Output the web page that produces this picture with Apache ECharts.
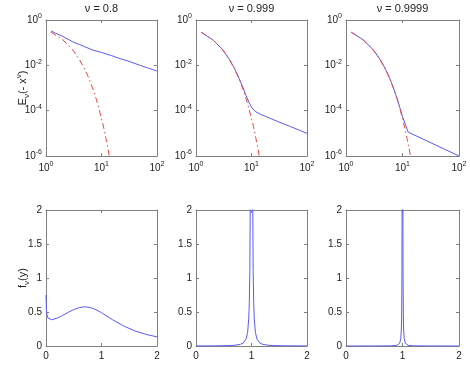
<!DOCTYPE html>
<html>
<head>
<meta charset="utf-8">
<script src="https://cdn.jsdelivr.net/npm/echarts@6/dist/echarts.min.js"></script>
<style>
  html, body { margin: 0; padding: 0; background: #fff; }
  #chart { width: 470px; height: 369px; }
</style>
</head>
<body>
<div id="chart"></div>
<script>
// panel titles
var titles = ['ν = 0.8', 'ν = 0.999', 'ν = 0.9999'];

// top row: E_nu(-x^nu) on log-log axes (blue) and the exponential (red dash-dot)
var blue1X = [1.23, 1.5, 2, 3, 4, 5, 7, 10, 15, 20, 30, 50, 70, 100];
var blue1Y = [0.33, 0.26, 0.19, 0.11, 0.083, 0.066, 0.047, 0.037, 0.027, 0.021, 0.0155, 0.0099, 0.0075, 0.0056];

var blue2X = [1.23, 2, 3, 4, 5, 6, 7, 8, 9, 10, 11, 12, 15, 20, 30, 50, 70, 100];
var blue2Y = [0.29, 0.135, 0.05, 0.0185, 0.0068, 0.0026, 0.00105, 0.00046, 0.00023, 0.000145, 0.000106, 0.000089,
              0.000067, 0.00005, 0.000033, 0.00002, 0.0000143, 0.00001];

var blue3X = [1.23, 2, 3, 4, 5, 6, 7, 8, 9, 10, 12.6, 100];
var blue3Y = [0.292, 0.135, 0.0498, 0.0183, 0.00676, 0.00249, 0.000926, 0.000348, 0.000134, 0.000055, 0.0000113, 0.000001];

var redX = [1.23, 2, 3, 4, 5, 6, 7, 8, 9, 10, 11, 12, 13, 13.8];
var redY = [0.292, 0.135, 0.05, 0.018, 0.0067, 0.0025, 0.0009, 0.00034, 0.00012, 0.000045, 0.000017, 0.000006, 0.0000023, 0.000001];

// bottom row: f_nu(y)
var dens1X = [0, 0.01, 0.03, 0.06, 0.1, 0.2, 0.3, 0.4, 0.5, 0.6, 0.7, 0.8, 0.9, 1.0, 1.2, 1.4, 1.6, 1.8, 2.0];
var dens1Y = [0.75, 0.49, 0.416, 0.39, 0.386, 0.41, 0.45, 0.495, 0.536, 0.565, 0.577, 0.565, 0.534, 0.49, 0.386, 0.294, 0.223, 0.171, 0.134];

var dens2X = [0, 0.2, 0.4, 0.6, 0.7, 0.8, 0.85, 0.9, 0.93, 0.95, 0.96, 0.97, 0.98, 0.99, 1.0,
              1.01, 1.02, 1.03, 1.04, 1.05, 1.07, 1.1, 1.15, 1.2, 1.3, 1.4, 1.6, 2.0];
var dens2Y = [0.001, 0.0016, 0.0028, 0.0063, 0.011, 0.025, 0.044, 0.099, 0.2, 0.4, 0.62, 1.1, 2.44, 9.1, 100,
              9.1, 2.44, 1.1, 0.62, 0.4, 0.2, 0.099, 0.044, 0.025, 0.011, 0.0063, 0.0028, 0.001];

var dens3X = [0, 0.5, 0.8, 0.9, 0.95, 0.97, 0.98, 0.985, 0.99, 0.993, 0.995, 1.0,
              1.005, 1.007, 1.01, 1.015, 1.02, 1.03, 1.05, 1.1, 1.2, 1.5, 2.0];
var dens3Y = [0.0001, 0.0004, 0.0025, 0.01, 0.04, 0.11, 0.25, 0.44, 1.0, 2.04, 4.0, 1000,
              4.0, 2.04, 1.0, 0.44, 0.25, 0.11, 0.04, 0.01, 0.0025, 0.0004, 0.0001];

var FONT = 'Liberation Sans, Arial, Helvetica, sans-serif';
var BOX = '#808080';
var BLUE = '#5a5af6';
var RED = '#ee4646';

var cols = [{left: 46, width: 111}, {left: 196, width: 111}, {left: 346, width: 113}];
var rows = [{top: 20, height: 136}, {top: 210, height: 136}];

function zip(xs, ys) {
    return xs.map(function (x, i) { return [x, ys[i]]; });
}

function powLabel(v) {
    var k = Math.round(Math.log(v) / Math.LN10);
    return '{b|10}{e|' + k + '}';
}

var powRich = {
    b: {fontSize: 10, lineHeight: 14, color: '#222', fontFamily: FONT},
    e: {fontSize: 7, color: '#222', fontFamily: FONT, verticalAlign: 'top'}
};

var grids = [], xAxes = [], yAxes = [], series = [];

var blueSets = [[blue1X, blue1Y], [blue2X, blue2Y], [blue3X, blue3Y]];
var densSets = [[dens1X, dens1Y], [dens2X, dens2Y], [dens3X, dens3Y]];

function addPanel(r, c, isLog) {
    var g = grids.length;
    grids.push({left: cols[c].left, width: cols[c].width, top: rows[r].top, height: rows[r].height, containLabel: false});

    var line = {show: true, onZero: false, lineStyle: {color: BOX, width: 1}};
    var tick = {show: true, inside: true, length: 3, lineStyle: {color: BOX}};
    var label = {color: '#222', fontSize: 10, fontFamily: FONT};

    var xBase = isLog
        ? {type: 'log', logBase: 10, min: 1, max: 100, interval: 1}
        : {type: 'value', min: 0, max: 2, interval: 1};
    var yBase = isLog
        ? {type: 'log', logBase: 10, min: 0.000001, max: 1, interval: 2}
        : {type: 'value', min: 0, max: 2, interval: 0.5};

    xAxes.push(Object.assign({}, xBase, {
        gridIndex: g, position: 'bottom', axisLine: line, axisTick: tick, splitLine: {show: false},
        axisLabel: isLog
            ? Object.assign({}, label, {margin: 5, formatter: powLabel, rich: powRich})
            : Object.assign({}, label, {margin: 5})
    }));
    xAxes.push(Object.assign({}, xBase, {
        gridIndex: g, position: 'top', axisLine: line, axisTick: tick, splitLine: {show: false},
        axisLabel: {show: false}
    }));
    yAxes.push(Object.assign({}, yBase, {
        gridIndex: g, position: 'left', axisLine: line, axisTick: tick, splitLine: {show: false},
        axisLabel: isLog
            ? Object.assign({}, label, {margin: 4, formatter: powLabel, rich: powRich})
            : Object.assign({}, label, {margin: 4})
    }));
    yAxes.push(Object.assign({}, yBase, {
        gridIndex: g, position: 'right', axisLine: line, axisTick: tick, splitLine: {show: false},
        axisLabel: {show: false}
    }));
    return g;
}

function curve(g, xs, ys, color, dash) {
    return {
        type: 'line', xAxisIndex: 2 * g, yAxisIndex: 2 * g,
        symbol: 'none', showSymbol: false, clip: true, silent: true,
        itemStyle: {color: color},
        data: zip(xs, ys),
        lineStyle: {color: color, width: 1, type: dash || 'solid'}
    };
}

for (var c = 0; c < 3; c++) {
    var g = addPanel(0, c, true);
    series.push(curve(g, blueSets[c][0], blueSets[c][1], BLUE));
    series.push(curve(g, redX, redY, RED, [6, 3, 1.5, 3]));
}
for (var c2 = 0; c2 < 3; c2++) {
    var g2 = addPanel(1, c2, false);
    series.push(curve(g2, densSets[c2][0], densSets[c2][1], BLUE));
}

var graphics = titles.map(function (t, i) {
    return {
        type: 'text', x: cols[i].left + cols[i].width / 2, y: 9,
        style: {text: t, fill: '#222', fontSize: 11, fontFamily: FONT, align: 'center', verticalAlign: 'middle'}
    };
});
graphics.push({
    type: 'text', x: 23, y: 88, rotation: Math.PI / 2,
    style: {
        text: '{n|E}{s|ν}{n|(- x}{p|ν}{n|)}', align: 'center', verticalAlign: 'middle',
        rich: {
            n: {fontSize: 11, lineHeight: 16, fill: '#222', fontFamily: FONT},
            s: {fontSize: 8, fill: '#222', fontFamily: FONT, verticalAlign: 'bottom'},
            p: {fontSize: 8, fill: '#222', fontFamily: FONT, verticalAlign: 'top'}
        }
    }
});
graphics.push({
    type: 'text', x: 23, y: 278, rotation: Math.PI / 2,
    style: {
        text: '{n|f}{s|ν}{n|(y)}', align: 'center', verticalAlign: 'middle',
        rich: {
            n: {fontSize: 11, lineHeight: 16, fill: '#222', fontFamily: FONT},
            s: {fontSize: 8, fill: '#222', fontFamily: FONT, verticalAlign: 'bottom'}
        }
    }
});

var chart = echarts.init(document.getElementById('chart'), null, {renderer: 'canvas'});
chart.setOption({
    animation: false,
    backgroundColor: '#fff',
    // one palette entry per series so nothing falls back to theme colours
    color: series.map(function (s) { return s.lineStyle.color; }),
    grid: grids,
    xAxis: xAxes,
    yAxis: yAxes,
    series: series,
    graphic: graphics
});
</script>
</body>
</html>
